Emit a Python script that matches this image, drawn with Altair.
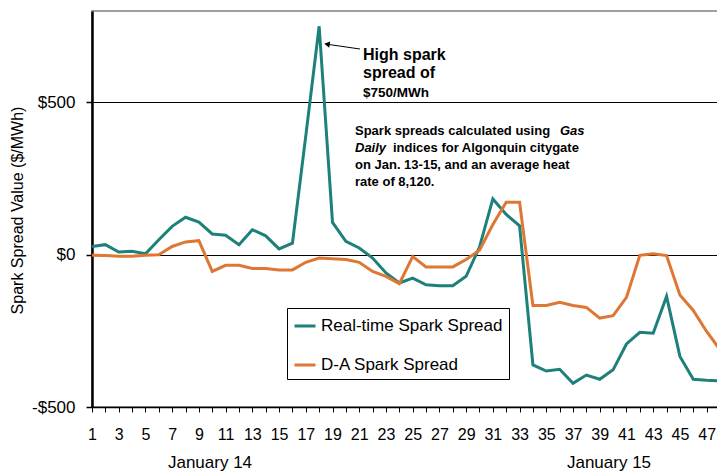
import altair as alt
import pandas as pd

hours = list(range(1, 49))
real_time = [27, 33, 9, 11, 3, 49, 93, 123, 107, 68,
             64, 33, 82, 62, 19, 38, 390, 750, 106, 44,
             22, -11, -60, -93, -77, -99, -102, -102, -71, 25,
             183, 132, 95, -362, -382, -376, -422, -395, -409, -378,
             -293, -255, -258, -137, -334, -409, -412, -414]
day_ahead = [-2, -3, -5, -5, -2, 0, 27, 42, 46, -55,
             -35, -35, -45, -45, -50, -50, -25, -11, -13, -16,
             -25, -55, -71, -95, -6, -40, -40, -40, -16, 15,
             99, 172, 172, -167, -167, -156, -167, -173, -208, -200,
             -140, -2, 3, -3, -132, -183, -252, -312]
series_names = ["Real-time Spark Spread", "D-A Spark Spread"]
series_colors = ["#1e807a", "#dd7733"]
y_ticks = [-500, 0, 500]
day_labels = ["January 14", "January 15"]

df = pd.concat([
    pd.DataFrame({"hour": hours, "value": real_time, "series": series_names[0]}),
    pd.DataFrame({"hour": hours, "value": day_ahead, "series": series_names[1]}),
])

FONT = "Arial, Liberation Sans, Helvetica, sans-serif"

W, H = 628, 396

x_enc = alt.X("hour:Q",
              scale=alt.Scale(domain=[1, 48], nice=False, zero=False),
              axis=alt.Axis(values=hours, labelExpr="datum.value % 2 == 1 ? datum.value : ''",
                            title=None, grid=False, domainColor="black", domainWidth=1.5,
                            tickColor="black", tickSize=5, tickWidth=1,
                            labelFont=FONT, labelFontSize=16, labelColor="black",
                            labelPadding=14, labelFlush=False, labelOverlap=False))
y_enc = alt.Y("value:Q",
              scale=alt.Scale(domain=[-500, 800], nice=False, zero=False),
              axis=alt.Axis(values=y_ticks,
                            labelExpr="datum.value < 0 ? '-$' + abs(datum.value) : '$' + datum.value",
                            title="Spark Spread Value ($/MWh)", titleFont=FONT, titleFontSize=16,
                            titleFontWeight="normal", titleColor="black",
                            titleX=-75, titleY=199, titleAngle=-90, titleAlign="center",
                            titleBaseline="middle",
                            grid=True, gridColor="black", gridWidth=1, gridOpacity=1,
                            domainColor="black", domainWidth=2.5,
                            tickColor="black", tickSize=6, tickWidth=1.5,
                            labelFont=FONT, labelFontSize=17, labelColor="black",
                            labelPadding=11))

lines = alt.Chart(df).mark_line(strokeWidth=3).encode(
    x=x_enc, y=y_enc,
    color=alt.Color("series:N",
                    scale=alt.Scale(domain=series_names, range=series_colors),
                    legend=alt.Legend(title=None, orient="none", legendX=195, legendY=297,
                                      direction="vertical",
                                      strokeColor="black", padding=6,
                                      fillColor="white",
                                      symbolType="stroke", symbolSize=441,
                                      symbolStrokeWidth=3,
                                      labelFont=FONT, labelFontSize=17, labelColor="black",
                                      labelLimit=400,
                                      labelOffset=4, rowPadding=19)),
    order="hour:Q",
)

ann = pd.DataFrame({
    "t": ["High spark", "spread of", "$750/MWh",
          "Spark spreads calculated using", "Gas", "Daily",
          "indices for Algonquin citygate", "on Jan. 13-15, and an average heat",
          "rate of 8,120."],
    "px": [271, 271, 271, 263, 468, 263, 301, 263, 263],
    "py": [49, 67, 86, 124, 124, 141, 141, 158, 175],
    "size": [16, 16, 13.5, 13, 13, 13, 13, 13, 13],
    "italic": [False, False, False, False, True, True, False, False, False],
})

def ann_layer(sub, style):
    return alt.Chart(sub).mark_text(align="left", baseline="alphabetic", font=FONT,
                                    fontWeight="bold", fontStyle=style, color="black").encode(
        x=alt.X("px:Q", scale=None), y=alt.Y("py:Q", scale=None), text="t:N",
        size=alt.Size("size:Q", scale=None, legend=None),
    )

ann_normal = ann_layer(ann[~ann["italic"]], "normal")
ann_italic = ann_layer(ann[ann["italic"]], "italic")

arrow = alt.Chart(pd.DataFrame({"a": [0]})).mark_rule(color="black", strokeWidth=1).encode(
    x=alt.value(268), y=alt.value(38), x2=alt.value(237), y2=alt.value(33.5))
head = alt.Chart(pd.DataFrame({"a": [0]})).mark_point(
    shape="triangle-left", filled=True, color="black", size=40, angle=8, opacity=1).encode(
    x=alt.value(235), y=alt.value(33.2))

days = pd.DataFrame({"t": day_labels, "px": [118, 517]})
day_text = alt.Chart(days).mark_text(font=FONT, fontSize=17, color="black",
                                     align="center", baseline="middle").encode(
    x=alt.X("px:Q", scale=None), y=alt.value(452), text="t:N")

chart = alt.layer(lines, arrow, head, ann_normal, ann_italic, day_text).properties(
    width=W, height=H,
    background="white",
    autosize=alt.AutoSizeParams(type="none"),
    padding={"left": 84, "top": 3, "right": -3, "bottom": 67},
).configure_view(stroke="#808080", strokeWidth=1.5)

chart.save("out.html", embed_options={"renderer": "svg", "actions": False})
